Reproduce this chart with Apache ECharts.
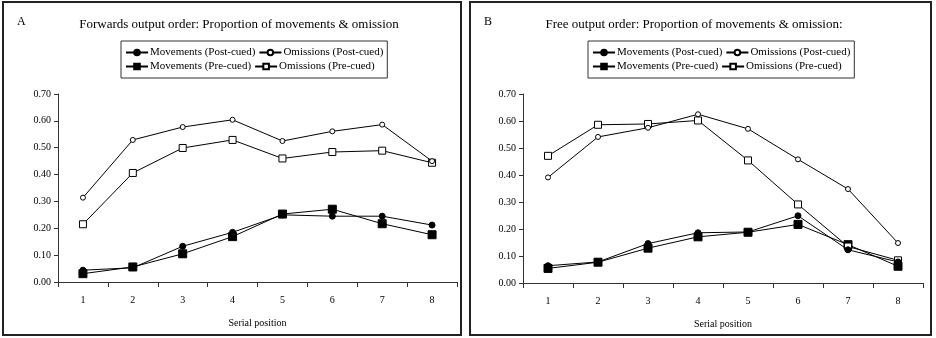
<!DOCTYPE html>
<html lang="en">
<head>
    <meta charset="UTF-8">
    <title>Proportion of movements & omissions</title>
    <script src="https://cdn.jsdelivr.net/npm/echarts@6/dist/echarts.min.js"></script>
    <style>
        *{margin:0;padding:0;}
        html,body{width:100%;height:100%;background:#fff;}
        #main{width:936px;height:338px;}
    </style>
</head>
<body>
    <div id="main"></div>
    <script>
        var positions=["1","2","3","4","5","6","7","8"];
        var names=["Movements (Post-cued)","Omissions (Post-cued)","Movements (Pre-cued)","Omissions (Pre-cued)"];
        // panel A: forwards output order
        var fwdMovPost=[0.044,0.053,0.133,0.185,0.250,0.245,0.245,0.212];
        var fwdOmiPost=[0.314,0.529,0.577,0.604,0.525,0.561,0.586,0.450];
        var fwdMovPre=[0.031,0.056,0.105,0.169,0.253,0.271,0.217,0.176];
        var fwdOmiPre=[0.215,0.406,0.499,0.529,0.460,0.484,0.489,0.444];
        // panel B: free output order
        var freeMovPost=[0.064,0.078,0.146,0.186,0.189,0.249,0.123,0.078];
        var freeOmiPost=[0.391,0.541,0.575,0.625,0.571,0.458,0.348,0.148];
        var freeMovPre=[0.054,0.077,0.129,0.171,0.188,0.217,0.142,0.062];
        var freeOmiPre=[0.471,0.586,0.589,0.602,0.454,0.291,0.135,0.084];
        var yTicks=[0,0.1,0.2,0.3,0.4,0.5,0.6,0.7];

        var font="Liberation Serif";
        var styles=[
            {symbol:"circle",symbolSize:6,fill:"#000"},
            {symbol:"circle",symbolSize:5,fill:"#fff"},
            {symbol:"rect",symbolSize:8,fill:"#000"},
            {symbol:"rect",symbolSize:7,fill:"#fff"}
        ];

        function makeSeries(idx,sets){
            return sets.map(function(d,i){
                return {
                    name:names[i],
                    type:"line",
                    xAxisIndex:idx,
                    yAxisIndex:idx,
                    data:d,
                    symbol:styles[i].symbol,
                    symbolSize:styles[i].symbolSize,
                    showAllSymbol:true,
                    lineStyle:{color:"#000",width:1},
                    itemStyle:{color:styles[i].fill,borderColor:"#000",borderWidth:1},
                    emphasis:{disabled:true},
                    animation:false,
                    z:i<2?3:2
                }
            })
        }

        function xAxis(idx){
            return {
                type:"category",
                gridIndex:idx,
                data:positions,
                boundaryGap:true,
                name:"Serial position",
                nameLocation:"middle",
                nameGap:36,
                nameTextStyle:{fontFamily:font,fontSize:10,color:"#000"},
                axisLine:{lineStyle:{color:"#333",width:1}},
                axisTick:{show:true,interval:0,length:5,lineStyle:{color:"#333"}},
                axisLabel:{fontFamily:font,fontSize:10,color:"#000",margin:13,interval:0}
            }
        }
        function yAxis(idx){
            return {
                type:"value",
                gridIndex:idx,
                min:yTicks[0],
                max:yTicks[yTicks.length-1],
                interval:0.1,
                splitLine:{show:false},
                axisLine:{show:true,lineStyle:{color:"#333",width:1}},
                axisTick:{show:true,length:4,lineStyle:{color:"#333"}},
                axisLabel:{fontFamily:font,fontSize:10,color:"#000",margin:7,
                    formatter:function(v){return v.toFixed(2)}}
            }
        }
        function legend(left){
            return {
                left:left,
                top:41,
                width:300,
                padding:[6,4,6,4],
                itemGap:3,
                itemWidth:22,
                itemHeight:7,
                borderColor:"#333",
                borderWidth:1,
                data:names,
                selectedMode:false,
                textStyle:{fontFamily:font,fontSize:11,color:"#000",padding:[0,0,0,-3]}
            }
        }

        var myChart=echarts.init(document.getElementById("main"));
        var option={
            backgroundColor:"#fff",
            animation:false,
            textStyle:{fontFamily:font},
            title:[
                {text:"A",left:12,top:11,textStyle:{fontFamily:font,fontSize:12,fontWeight:"normal",color:"#000"}},
                {text:"Forwards output order: Proportion of movements & omission",left:234,top:13,textAlign:"center",
                    textStyle:{fontFamily:font,fontSize:13,fontWeight:"normal",color:"#000"}},
                {text:"B",left:479,top:11,textStyle:{fontFamily:font,fontSize:12,fontWeight:"normal",color:"#000"}},
                {text:"Free output order: Proportion of movements & omission:",left:689,top:13,textAlign:"center",
                    textStyle:{fontFamily:font,fontSize:13,fontWeight:"normal",color:"#000"}}
            ],
            legend:[legend(121),legend(588)],
            grid:[
                {left:58,top:94,width:399,height:188},
                {left:523,top:94,width:400,height:189}
            ],
            xAxis:[xAxis(0),xAxis(1)],
            yAxis:[yAxis(0),yAxis(1)],
            series:makeSeries(0,[fwdMovPost,fwdOmiPost,fwdMovPre,fwdOmiPre])
                .concat(makeSeries(1,[freeMovPost,freeOmiPost,freeMovPre,freeOmiPre])),
            graphic:[
                {type:"rect",shape:{x:3,y:2,width:458,height:333},style:{fill:"none",stroke:"#222",lineWidth:2},silent:true},
                {type:"rect",shape:{x:470,y:2,width:461,height:333},style:{fill:"none",stroke:"#222",lineWidth:2},silent:true}
            ]
        };
        myChart.setOption(option);
        window.onresize=myChart.resize;
    </script>
</body>
</html>
